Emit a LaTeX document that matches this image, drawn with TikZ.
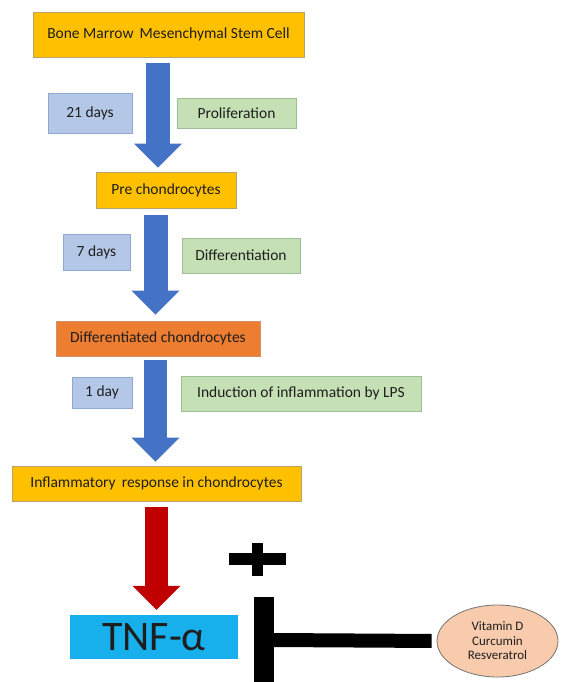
\documentclass[tikz,border=0pt]{standalone}
\usepackage{fontspec}
\setmainfont{Carlito}
\usetikzlibrary{positioning,arrows.meta,shapes.geometric}
\definecolor{cellgold}{HTML}{FFC000}
\definecolor{cellframe}{HTML}{B8A36A}
\definecolor{daysback}{HTML}{B4C7E7}
\definecolor{daysframe}{HTML}{8FA8CF}
\definecolor{stepback}{HTML}{C5E0B4}
\definecolor{stepframe}{HTML}{9DBF95}
\definecolor{chondor}{HTML}{ED7D31}
\definecolor{arrblue}{HTML}{4472C4}
\definecolor{arrred}{HTML}{C00000}
\definecolor{tnfblue}{HTML}{18B0EC}
\definecolor{vitback}{HTML}{F8CBAD}
\definecolor{ink}{HTML}{1E1E1E}

\begin{document}
\begin{tikzpicture}[x=1pt,y=-1pt,
  cell/.style={draw=cellframe,fill=cellgold,line width=0.8pt,inner sep=0pt,text=ink,font=\fontsize{15.5}{18}\selectfont},
  days/.style={draw=daysframe,fill=daysback,line width=0.8pt,inner sep=0pt,text=ink,font=\fontsize{15.5}{18}\selectfont},
  stepbox/.style={draw=stepframe,fill=stepback,line width=0.8pt,inner sep=0pt,text=ink,font=\fontsize{15.5}{18}\selectfont},
  blockarr/.style={line width=24pt,draw=arrblue,-{Triangle[width=48pt,length=24pt,line width=0pt]}},
  inhib/.style={line width=14pt,draw=black}]
  \useasboundingbox (0,0) rectangle (562,682);
  % cell stages
  \node[cell,minimum width=271,minimum height=45] (bmsc) at (168.5,34.5) {Bone Marrow\, Mesenchymal Stem Cell};
  \node[cell,minimum width=140,minimum height=36] (pre) at (166,190) {Pre chondrocytes};
  \node[cell,fill=chondor,draw=chondor!80!black!70,minimum width=204,minimum height=35] (dchon) at (158,338.5) {Differentiated chondrocytes};
  \node[cell,minimum width=289,minimum height=35] (infl) at (156.5,483.5) {Inflammatory\, response in chondrocytes};
  \node[fill=tnfblue,minimum width=168,minimum height=44,inner sep=0pt,text=ink,font=\fontsize{42}{46}\selectfont] (tnf) at (154,637) {TNF-α};
  % culture times
  \node[days,minimum width=84,minimum height=40] (d21) at (90,113) {21 days};
  \node[days,minimum width=67,minimum height=36] (d7) at (96.5,252) {7 days};
  \node[days,minimum width=60,minimum height=31] (d1) at (102,392.5) {1 day};
  % what happens in each step
  \node[stepbox,minimum width=119,minimum height=30] (prolif) at (236.5,113) {Proliferation};
  \node[stepbox,minimum width=118,minimum height=35] (diff) at (241,255.5) {Differentiation};
  \node[stepbox,minimum width=240,minimum height=35] (lps) at (301,393.5) {Induction of inflammation by LPS};
  % inhibitors
  \node[ellipse,draw=black!55,fill=vitback,line width=0.8pt,minimum width=121,minimum height=72,inner sep=0pt,
        align=center,text=ink,font=\fontsize{13}{14.5}\selectfont] (vit) at (497.5,641) {Vitamin D\\Curcumin\\Resveratrol};
  % block arrows between the stages
  \coordinate (col1) at (158,0);
  \coordinate (col2) at (155.5,0);
  \coordinate (col3) at (156.5,0);
  \draw[blockarr,shorten <=6pt,shorten >=4pt] (bmsc.south -| col1) -- (pre.north -| col1);
  \draw[blockarr,shorten <=7pt,shorten >=6pt] (pre.south -| col2) -- (dchon.north -| col2);
  \draw[blockarr,line width=23pt,shorten <=4pt,shorten >=4pt] (dchon.south -| col2) -- (infl.north -| col2);
  \draw[blockarr,draw=arrred,line width=23pt,shorten <=6pt,shorten >=5pt] (infl.south -| col3) -- (tnf.north -| col3);
  % plus sign
  \fill[black] (229,553) rectangle (286,565);
  \fill[black] (252,543) rectangle (263,576);
  % inhibition bar
  \coordinate (tb) at (274,640);
  \draw[inhib,shorten <=5pt] (vit.west) -- (tb);
  \fill[black] (254,597) rectangle (274,684);
\end{tikzpicture}
\end{document}
